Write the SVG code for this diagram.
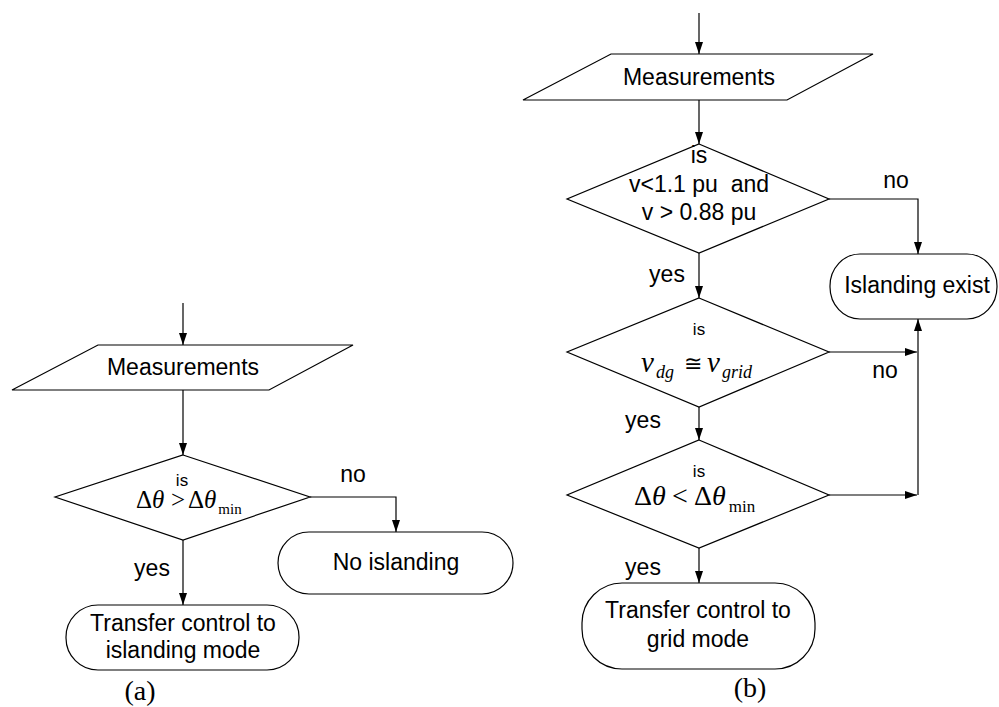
<svg xmlns="http://www.w3.org/2000/svg" width="999" height="707" viewBox="0 0 999 707">
<defs>
<marker id="ah" markerWidth="12" markerHeight="8" refX="12" refY="4" orient="auto" markerUnits="userSpaceOnUse">
<path d="M0,0 L12,4 L0,8 z" fill="#000"/>
</marker>
<style>
.s{fill:#fff;stroke:#000;stroke-width:1.2}
.c{fill:none;stroke:#000;stroke-width:1.2;marker-end:url(#ah)}
.t{font-family:"Liberation Sans",Arial,sans-serif;font-size:23px;fill:#000;text-anchor:middle}
.ts{font-family:"Liberation Sans",Arial,sans-serif;font-size:17px;fill:#000;text-anchor:middle}
.m{font-family:"Liberation Serif","Times New Roman",serif;fill:#000}
.i{font-style:italic}
.cap{font-family:"Liberation Serif","Times New Roman",serif;font-size:28px;fill:#000;text-anchor:middle}
</style>
</defs>
<rect width="999" height="707" fill="#fff"/>
<g id="connectors">
<path class="c" d="M183,303 V345"/>
<path class="c" d="M183,390 V455"/>
<path class="c" d="M310,497 H396 V532"/>
<path class="c" d="M183,540 V605"/>
<path class="c" d="M699,13 V54"/>
<path class="c" d="M699,100 V144"/>
<path class="c" d="M829,199 H918 V254"/>
<path class="c" d="M699,253 V298"/>
<path class="c" d="M829,352 H917"/>
<path class="c" d="M699,407 V440"/>
<path class="c" d="M829,495 H917"/>
<path class="c" d="M918,495 V319"/>
<path class="c" d="M699,548 V583"/>
</g>
<g id="a_measurements">
<polygon class="s" points="98,345 353,345 269,390 12,390"/>
<text class="t" x="183" y="375">Measurements</text>
</g>
<g id="a_decision">
<polygon class="s" points="183,455 310,497 183,540 55,497"/>
<text class="ts" x="182" y="486">is</text>
<text class="m" y="508" font-size="25"><tspan x="136">Δ</tspan><tspan class="i">θ</tspan><tspan x="171">&gt;</tspan><tspan x="188">Δ</tspan><tspan class="i">θ</tspan><tspan dx="2" y="514" font-size="15">min</tspan></text>
</g>
<g id="a_no_islanding">
<rect class="s" x="278" y="532" width="235" height="62" rx="31" ry="31"/>
<text class="t" x="396" y="570">No islanding</text>
</g>
<g id="a_transfer">
<rect class="s" x="66" y="605" width="233" height="65" rx="32" ry="32"/>
<text class="t" x="183" y="631">Transfer control to</text>
<text class="t" x="183" y="658">islanding mode</text>
</g>
<g id="a_labels">
<text class="t" x="353" y="482">no</text>
<text class="t" x="152" y="576">yes</text>
<text class="cap" x="140" y="700">(a)</text>
</g>
<g id="b_measurements">
<polygon class="s" points="611,54 873,54 787,100 523,100"/>
<text class="t" x="699" y="85">Measurements</text>
</g>
<g id="b_decision1">
<polygon class="s" points="699,144 829,199 699,253 567,199"/>
<text class="t" x="699" y="163">is</text>
<text class="t" x="699" y="192" xml:space="preserve">v&lt;1.1 pu  and</text>
<text class="t" x="699" y="220">v &gt; 0.88 pu</text>
</g>
<g id="b_islanding_exist">
<rect class="s" x="830" y="254" width="167" height="65" rx="30" ry="32"/>
<text class="t" x="917" y="293">Islanding exist</text>
</g>
<g id="b_decision2">
<polygon class="s" points="699,298 829,352 699,407 567,352"/>
<text class="ts" x="699" y="335">is</text>
<text class="m" y="372" font-size="29"><tspan x="641" class="i">v</tspan><tspan x="656" y="378" font-size="18" class="i">dg</tspan><tspan x="684" y="371" font-size="22">≅</tspan><tspan x="707" y="372" class="i">v</tspan><tspan x="722" y="378" font-size="18" class="i">grid</tspan></text>
</g>
<g id="b_decision3">
<polygon class="s" points="699,440 829,495 699,548 567,495"/>
<text class="ts" x="699" y="477">is</text>
<text class="m" y="505" font-size="28"><tspan x="634">Δ</tspan><tspan class="i">θ</tspan><tspan x="672">&lt;</tspan><tspan x="694">Δ</tspan><tspan class="i">θ</tspan><tspan dx="3" y="512" font-size="17">min</tspan></text>
</g>
<g id="b_transfer">
<rect class="s" x="582" y="583" width="233" height="86" rx="40" ry="40"/>
<text class="t" x="698" y="618">Transfer control to</text>
<text class="t" x="698" y="647">grid mode</text>
</g>
<g id="b_labels">
<text class="t" x="896" y="188">no</text>
<text class="t" x="667" y="282">yes</text>
<text class="t" x="885" y="378">no</text>
<text class="t" x="643" y="428">yes</text>
<text class="t" x="643" y="575">yes</text>
<text class="cap" x="750" y="697">(b)</text>
</g>
</svg>
